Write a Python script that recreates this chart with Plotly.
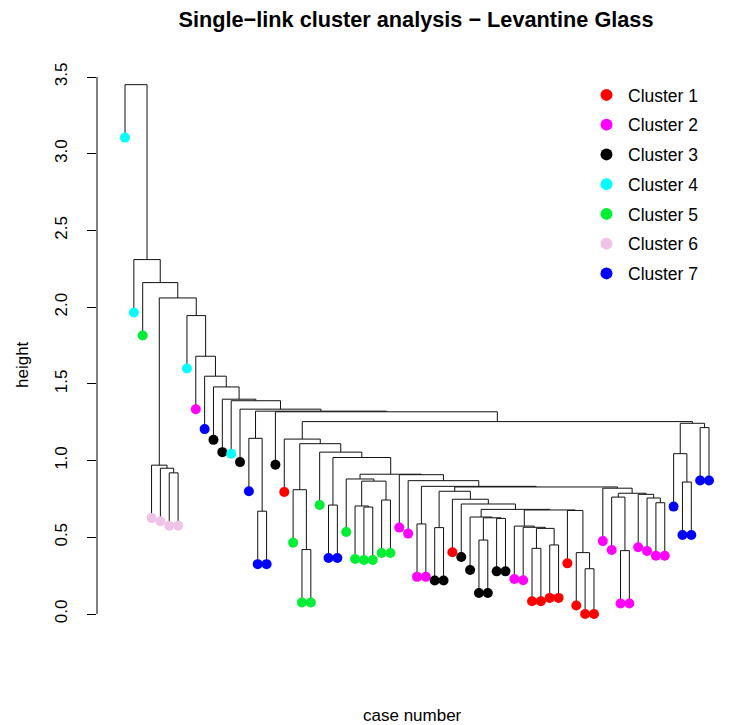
import plotly.graph_objects as go

# ---- data ----
leaf_cluster = [4, 4, 5, 6, 6, 6, 6, 4, 2, 7, 3, 3, 4, 3, 7, 7, 7, 3, 1, 5,
                5, 5, 5, 7, 7, 5, 5, 5, 5, 5, 5, 2, 2, 2, 2, 3, 3, 1, 3, 3,
                3, 3, 3, 3, 2, 2, 1, 1, 1, 1, 1, 1, 1, 1, 2, 2, 2, 2, 2, 2,
                2, 2, 7, 7, 7, 7, 7]

# merges (hclust style): negative = leaf position, positive = earlier merge
merge_left = [-6, -5, -4, -16, -15, -21, -20, -24, -28, -27, -30, 10, -26, -34, -36,
              -41, -43, 16, -40, -47, -49, 20, -46, -45, -53, -52, -51, 24, 19, -39,
              -38, 15, -57, -56, -61, -60, -59, 34, -55, 32, 14, -33, -32, 13, 8,
              -23, 7, -19, -64, -63, -66, 50, 48, -18, 5, -14, -13, -12, -11, -10,
              -9, -8, 3, -3, -2, -1]
merge_right = [-7, 1, 2, -17, 4, -22, 6, -25, -29, 9, -31, 11, 12, -35, -37,
               -42, -44, 17, 18, -48, -50, 21, 22, 23, -54, 25, 26, 27, 28, 29,
               30, 31, -58, 33, -62, 35, 36, 37, 38, 39, 40, 41, 42, 43, 44,
               45, 46, 47, -65, 49, -67, 51, 52, 53, 54, 55, 56, 57, 58, 59,
               60, 61, 62, 63, 64, 65]
merge_height = [0.92, 0.95, 0.97, 0.67, 1.145, 0.42, 0.81, 0.71, 0.697, 0.704,
                0.743, 0.866, 0.88, 0.587, 0.563, 0.482, 0.623, 0.627, 0.632, 0.428,
                0.45, 0.558, 0.565, 0.573, 0.295, 0.40, 0.675, 0.678, 0.682, 0.717,
                0.748, 0.80, 0.413, 0.762, 0.725, 0.756, 0.78, 0.787, 0.82, 0.828,
                0.832, 0.869, 0.908, 0.911, 1.02, 1.055, 1.11, 1.14, 0.86, 1.045,
                1.215, 1.243, 1.254, 1.318, 1.322, 1.335, 1.39, 1.40, 1.48, 1.55,
                1.68, 1.945, 2.06, 2.16, 2.31, 3.45]

cluster_names = ["Cluster 1", "Cluster 2", "Cluster 3", "Cluster 4",
                 "Cluster 5", "Cluster 6", "Cluster 7"]
cluster_colors = ["#FF0000", "#FF00FF", "#000000", "#00FFFF",
                  "#00EE33", "#EEC3E6", "#0000FF"]
y_ticks = [0.0, 0.5, 1.0, 1.5, 2.0, 2.5, 3.0, 3.5]

# ---- layout of the tree ----
hang = 0.1 * max(merge_height)
n_leaves = len(leaf_cluster)
leaf_y = [0.0] * n_leaves
node_x = []
seg_x, seg_y = [], []


def child_pos(c, h):
    if c < 0:
        i = -c - 1
        y = max(h - hang, 0.0)
        leaf_y[i] = y
        return i + 1, y
    return node_x[c - 1], merge_height[c - 1]


for l, r, h in zip(merge_left, merge_right, merge_height):
    xl, yl = child_pos(l, h)
    xr, yr = child_pos(r, h)
    seg_x += [xl, xl, xr, xr, None]
    seg_y += [yl, h, h, yr, None]
    node_x.append((xl + xr) / 2)

fig = go.Figure()
fig.add_trace(go.Scatter(x=seg_x, y=seg_y, mode="lines",
                         line=dict(color="#111111", width=1),
                         showlegend=False, hoverinfo="skip"))

for k, name in enumerate(cluster_names):
    xs = [i + 1 for i in range(n_leaves) if leaf_cluster[i] == k + 1]
    ys = [leaf_y[i] for i in range(n_leaves) if leaf_cluster[i] == k + 1]
    fig.add_trace(go.Scatter(x=xs, y=ys, mode="markers", name=name,
                             legendgroup=name,
                             marker=dict(color=cluster_colors[k], size=10)))

# ---- pixel geometry (page has an 8px body margin) ----
OFF = 8
W, H = 730 - OFF, 725 - OFF
L, R, T, B = 97 - OFF, 0, 60 - OFF, 75
PW, PH = W - L - R, H - T - B


def fx(px):
    return (px - OFF - L) / PW


def fy(py):
    return (H - B - (py - OFF)) / PH


px_per_leaf = (709 - 125) / 66.0
x0 = 1 + (97 - 125) / px_per_leaf
x1 = 1 + (730 - 125) / px_per_leaf
px_per_unit = (614 - 77) / 3.5
y0 = -(650 - 614) / px_per_unit
y1 = 3.5 + (77 - 60) / px_per_unit

font = "Liberation Sans, Arial, sans-serif"
fig.update_layout(
    width=W, height=H,
    margin=dict(l=L, r=R, t=T, b=B, pad=0),
    plot_bgcolor="white", paper_bgcolor="white",
    font=dict(family=font, color="black"),
    title=dict(text="<b>Single\u2212link cluster analysis \u2212 Levantine Glass</b>",
               x=(416 - OFF) / W, xref="container", xanchor="center",
               y=1 - (19 - OFF) / H, yref="container", yanchor="middle",
               font=dict(size=21.7, family=font)),
    xaxis=dict(range=[x0, x1], visible=False),
    yaxis=dict(range=[y0, y1], showgrid=False, zeroline=False, showline=False,
               tickvals=y_ticks, ticktext=[f"{v:.1f}" for v in y_ticks],
               ticks="outside", ticklen=9, tickcolor="black", tickwidth=1,
               tickangle=-90, tickfont=dict(size=17),
               ticklabelstandoff=13),
    legend=dict(x=fx(585), y=fy(77),
                xanchor="left", yanchor="top", font=dict(size=17.5),
                tracegroupgap=4, itemwidth=33,
                bgcolor="rgba(0,0,0,0)", itemsizing="constant"),
    shapes=[dict(type="line", xref="paper", yref="y", x0=0, x1=0,
                 y0=y_ticks[0], y1=y_ticks[-1], line=dict(color="black", width=1))],
    annotations=[
        dict(text="height", xref="paper", yref="paper", x=fx(22),
             y=fy(365), showarrow=False, textangle=-90,
             xanchor="center", yanchor="middle", font=dict(size=17)),
        dict(text="case number", xref="paper", yref="paper",
             x=fx(412), y=fy(715),
             showarrow=False, xanchor="center", yanchor="middle",
             font=dict(size=17)),
    ],
)

fig.write_html("out.html")
